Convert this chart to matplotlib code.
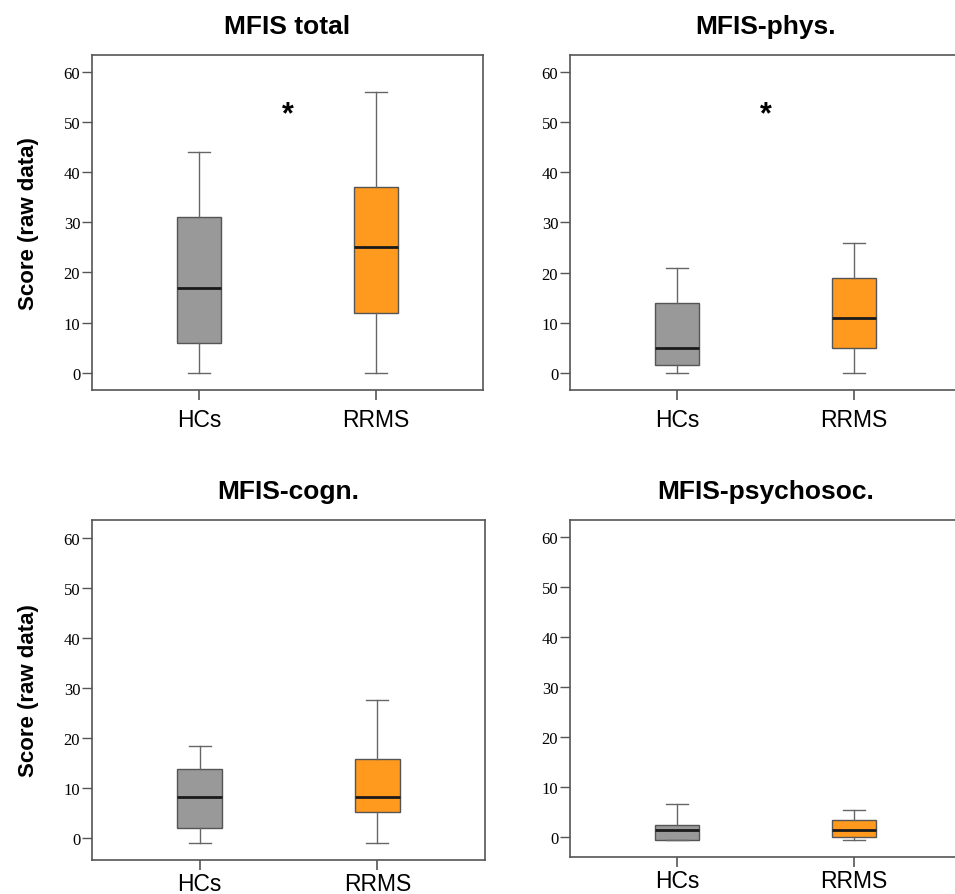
import matplotlib.pyplot as plt

# groups on the x axis
groups = ['HCs', 'RRMS']
titles = ['MFIS total', 'MFIS-phys.', 'MFIS-cogn.', 'MFIS-psychosoc.']

# box plot summaries: [HCs, RRMS]
whislo = [[0, 0], [0, 0], [-1.0, -1.0], [-0.5, -0.5]]
q1 = [[6, 12], [1.5, 5], [2.0, 5.1], [-0.5, 0.0]]
med = [[17, 25], [5, 11], [8.1, 8.1], [1.5, 1.5]]
q3 = [[31, 37], [14, 19], [13.7, 15.8], [2.5, 3.5]]
whishi = [[44, 56], [21, 26], [18.3, 27.5], [6.6, 5.5]]

# significance marks (panel index, height)
stars = {0: 51.6, 1: 51.6}

ylims = [(-3.4, 63.3), (-3.4, 63.4), (-4.4, 63.5), (-3.9, 63.4)]
yticks = [0, 10, 20, 30, 40, 50, 60]

colors = ['#999999', '#FF9A1E']

W, H = 955, 895
# axes boxes in pixels: left, top, right, bottom
boxes_px = [(92, 56, 483, 391), (570, 56, 961, 391),
            (92, 521, 485, 861), (570, 521, 961, 858)]

fig = plt.figure(figsize=(W / 100, H / 100), dpi=100)

for i, (l, t, r, b) in enumerate(boxes_px):
    ax = fig.add_axes([l / W, 1 - b / H, (r - l) / W, (b - t) / H])
    stats = []
    for g in range(2):
        stats.append({'whislo': whislo[i][g], 'q1': q1[i][g], 'med': med[i][g],
                      'q3': q3[i][g], 'whishi': whishi[i][g], 'fliers': []})
    bp = ax.bxp(stats, positions=[1, 2], widths=0.25, capwidths=0.123,
                patch_artist=True, showfliers=False,
                boxprops=dict(edgecolor='#555555', linewidth=1.0),
                medianprops=dict(color='#1a1a1a', linewidth=2.0),
                whiskerprops=dict(color='#666666', linewidth=1.0),
                capprops=dict(color='#666666', linewidth=1.0))
    for patch, c in zip(bp['boxes'], colors):
        patch.set_facecolor(c)

    ax.set_xlim(0.394, 2.606)
    ax.set_ylim(*ylims[i])
    ax.set_yticks(yticks)
    ax.set_xticks([1, 2])
    ax.set_xticklabels(groups, fontsize=16.5, family='Liberation Sans')
    for lab in ax.get_yticklabels():
        lab.set_family('Liberation Serif')
        lab.set_fontsize(12)
    ax.tick_params(axis='y', length=7.5, width=1, color='#555555', pad=1)
    xpad = 6 if i < 2 else 2
    ax.tick_params(axis='x', length=7, width=1.2, color='#555555', pad=xpad)
    for s in ax.spines.values():
        s.set_color('#555555')
        s.set_linewidth(1.2)

    ax.set_title(titles[i], fontsize=19, fontweight='bold',
                 family='Liberation Sans', pad=16)

    if i in stars:
        ax.text(1.5, stars[i], '*', fontsize=22, fontweight='bold',
                ha='center', va='center', family='Liberation Sans')

    if i % 2 == 0:
        ax.set_ylabel('Score (raw data)', fontsize=16, fontweight='bold',
                      family='Liberation Sans', labelpad=18)

fig.savefig('out.png', dpi=100)
